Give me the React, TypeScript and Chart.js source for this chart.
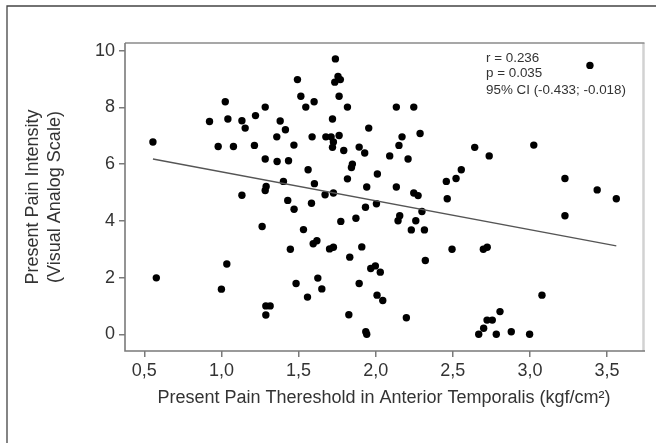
import React, { useEffect, useRef } from "react";
import { Chart, registerables } from "chart.js";

Chart.register(...registerables);

// Present Pain Threshold in Anterior Temporalis (kgf/cm²)
const PAIN_THRESHOLD = [
  0.556, 0.578, 0.923, 0.979, 1.0, 1.025, 1.035, 1.042, 1.078, 1.133,
  1.154, 1.133, 1.214, 1.221, 1.264, 1.284, 1.284, 1.29, 1.284, 1.288,
  1.316, 1.288, 1.359, 1.361, 1.381, 1.415, 1.402, 1.435, 1.43, 1.447,
  1.493, 1.515, 1.601, 1.547, 1.588, 1.677, 1.711, 1.763, 1.726, 1.72,
  1.47, 1.562, 1.603, 1.672, 1.726,
  1.471, 1.584, 1.532, 1.595, 1.619, 1.701, 1.726, 1.484, 1.625, 1.651,
  1.558, 1.774,
  1.739, 1.756, 1.735, 1.771, 1.763, 1.817, 2.134, 2.247, 1.72, 1.955,
  2.288, 2.171, 2.151, 1.793, 1.893, 1.929, 2.091, 2.21, 1.849, 1.843,
  2.011, 1.817, 1.942, 2.134, 2.247, 2.275, 2.642, 2.736, 2.555, 2.521,
  2.458, 2.464, 2.005, 1.934, 2.3, 2.156, 2.145, 2.26, 2.231, 2.316,
  1.872, 1.91, 2.495, 2.698, 2.723, 2.322, 1.832, 1.968, 1.998, 2.03,
  1.893, 2.009, 2.046, 1.826, 2.199, 1.936, 1.942, 2.668, 2.7, 2.722,
  2.756, 2.806, 2.782, 2.879, 2.998, 3.078, 3.025, 3.227, 3.227, 3.389,
  3.436, 3.56,
];

// Present Pain Intensity (Visual Analog Scale)
const PAIN_INTENSITY = [
  6.78, 1.99, 7.5, 6.62, 1.59, 8.2, 2.48, 7.59, 6.62, 7.53,
  7.27, 4.9, 6.66, 7.71, 3.8, 8.01, 6.18, 5.21, 5.07, 1.0,
  1.0, 0.68, 6.96, 6.09, 7.52, 7.21, 5.39, 6.12, 4.72, 3.0,
  8.98, 8.39, 8.2, 8.01, 6.96, 6.96, 6.96, 7.01, 6.78, 6.59,
  6.67, 5.8, 5.31, 4.92, 4.98,
  4.41, 4.62, 3.69, 3.19, 3.3, 3.01, 3.07, 1.79, 1.98, 1.6,
  1.31, 3.98,
  9.71, 9.09, 8.89, 8.98, 8.39, 8.01, 8.01, 8.01, 7.59, 7.27,
  7.08, 6.96, 6.66, 6.48, 6.6, 6.39, 6.29, 6.18, 6.0, 5.88,
  5.65, 5.48, 5.19, 5.19, 4.98, 4.89, 6.59, 6.29, 5.8, 5.49,
  5.39, 4.78, 4.6, 4.48, 4.33, 4.18, 4.0, 4.0, 3.68, 3.68,
  4.09, 3.08, 3.0, 3.0, 3.07, 2.6, 2.72, 2.32, 2.41, 2.19,
  1.79, 1.38, 1.19, 0.69, 0.58, 0.09, 0.0, 0.0, 0.21, 0.5,
  0.5, 0.8, 0.0, 0.09, 0.0, 1.38, 6.67, 5.49, 4.18, 9.48,
  5.09, 4.78,
];

// Fitted line end points
const TREND_X = [0.556, 3.56];
const TREND_Y = [6.18, 3.12];

const X_TICKS = [0.5, 1.0, 1.5, 2.0, 2.5, 3.0, 3.5];
const Y_TICKS = [0, 2, 4, 6, 8, 10];

const STATS_LINES = ["r = 0.236", "p = 0.035", "95% CI (-0.433; -0.018)"];

const X_TITLE = "Present Pain Thereshold in Anterior Temporalis (kgf/cm²)";
const Y_TITLE = ["Present Pain Intensity", "(Visual Analog Scale)"];

const FONT = '"Liberation Sans", Arial, Helvetica, sans-serif';
const TEXT = "#333333";

const framePlugin = {
  id: "framePlugin",
  afterDraw(chart: any) {
    const { ctx, chartArea } = chart;
    const { left, right, top, bottom } = chartArea;
    ctx.save();
    // outer figure border (left + top)
    ctx.strokeStyle = "#444444";
    ctx.lineWidth = 1.3;
    ctx.beginPath();
    ctx.moveTo(7, 443);
    ctx.lineTo(7, 6);
    ctx.lineTo(656, 6);
    ctx.stroke();
    // right light edge
    ctx.strokeStyle = "#d2d2d2";
    ctx.lineWidth = 2.5;
    ctx.beginPath();
    ctx.moveTo(right + 0.5, top);
    ctx.lineTo(right + 0.5, bottom);
    ctx.stroke();
    // top edge
    ctx.strokeStyle = "#8a8a8a";
    ctx.lineWidth = 1.7;
    ctx.beginPath();
    ctx.moveTo(left, top);
    ctx.lineTo(right + 1.5, top);
    ctx.stroke();
    // axes
    ctx.strokeStyle = "#7a7a7a";
    ctx.lineWidth = 1.6;
    ctx.beginPath();
    ctx.moveTo(left, top);
    ctx.lineTo(left, bottom);
    ctx.lineTo(right + 2, bottom);
    ctx.stroke();
    // stats text
    ctx.fillStyle = TEXT;
    ctx.font = `13.4px ${FONT}`;
    ctx.textAlign = "left";
    ctx.textBaseline = "middle";
    const ys = [58, 73.8, 90];
    STATS_LINES.forEach((t, i) => ctx.fillText(t, 486, ys[i]));
    ctx.restore();
  },
};

export default function App() {
  const ref = useRef<HTMLCanvasElement | null>(null);

  useEffect(() => {
    if (!ref.current) return;
    const points = PAIN_THRESHOLD.map((x, i) => ({ x, y: PAIN_INTENSITY[i] }));
    const trend = TREND_X.map((x, i) => ({ x, y: TREND_Y[i] }));
    const chart = new Chart(ref.current, {
      type: "scatter",
      data: {
        datasets: [
          {
            type: "line",
            data: trend,
            borderColor: "#555555",
            borderWidth: 1.3,
            pointRadius: 0,
            fill: false,
          } as any,
          {
            data: points,
            backgroundColor: "#000000",
            borderWidth: 0,
            pointRadius: 3.7,
            pointStyle: "circle",
          },
        ],
      },
      options: {
        animation: false,
        responsive: false,
        devicePixelRatio: 1,
        layout: { padding: { left: 0, right: 13, top: 43, bottom: 0 } },
        plugins: { legend: { display: false }, tooltip: { enabled: false } },
        scales: {
          x: {
            type: "linear",
            min: 0.375,
            max: 3.733,
            afterBuildTicks: (scale: any) => {
              scale.ticks = X_TICKS.map((v) => ({ value: v }));
            },
            afterFit: (scale: any) => {
              scale.height = 92;
            },
            ticks: {
              color: TEXT,
              font: { family: FONT, size: 18 },
              padding: 3,
              maxRotation: 0,
              autoSkip: false,
              callback: (v: any) => Number(v).toFixed(1).replace(".", ","),
            },
            grid: {
              drawOnChartArea: false,
              drawTicks: true,
              tickLength: 6,
              color: "#7a7a7a",
              lineWidth: 1.5,
            },
            border: { display: false },
            title: {
              display: true,
              text: X_TITLE,
              color: TEXT,
              font: { family: FONT, size: 18 },
              padding: { top: 4, bottom: 34 },
            },
          },
          y: {
            type: "linear",
            min: -0.59,
            max: 10.27,
            afterBuildTicks: (scale: any) => {
              scale.ticks = Y_TICKS.map((v) => ({ value: v }));
            },
            afterFit: (scale: any) => {
              scale.width = 125;
            },
            ticks: {
              color: TEXT,
              font: { family: FONT, size: 18 },
              padding: 4,
              autoSkip: false,
              callback: (v: any) => String(v),
            },
            grid: {
              drawOnChartArea: false,
              drawTicks: true,
              tickLength: 6,
              color: "#7a7a7a",
              lineWidth: 1.5,
            },
            border: { display: false },
            title: {
              display: true,
              text: Y_TITLE,
              color: TEXT,
              font: { family: FONT, size: 18, lineHeight: 1.22 },
              padding: { top: 22, bottom: 0 },
            },
          },
        },
      },
      plugins: [framePlugin],
    });
    return () => chart.destroy();
  }, []);

  return (
    <div
      style={{
        position: "fixed",
        left: 0,
        top: 0,
        width: 656,
        height: 443,
        background: "#ffffff",
      }}
    >
      <canvas ref={ref} width={656} height={443} style={{ display: "block" }} />
    </div>
  );
}
